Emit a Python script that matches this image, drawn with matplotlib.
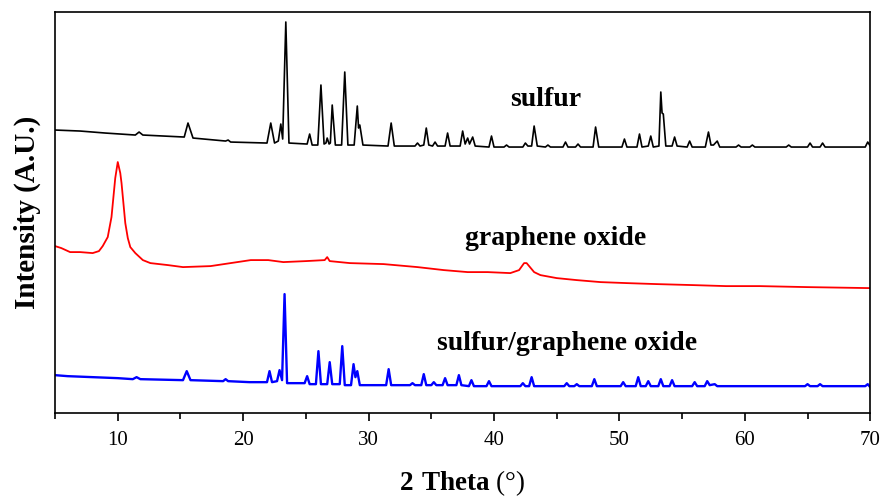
import numpy as np
import matplotlib
matplotlib.use('Agg')
import matplotlib.pyplot as plt

plt.rcParams['font.family'] = 'Liberation Serif'
plt.rcParams['mathtext.fontset'] = 'custom'
plt.rcParams['mathtext.rm'] = 'Liberation Serif'
plt.rcParams['mathtext.bf'] = 'Liberation Serif:bold'

#%% data (2 theta in degrees, intensity in arbitrary units, already stacked)
sulfur_2theta = [5.0, 7.0, 9.0, 11.4, 11.7, 12.0, 15.3, 15.6, 16.0, 18.6, 18.8, 19.0,
                 21.9, 22.2, 22.5, 22.8, 23.0, 23.15, 23.4, 23.65, 25.1, 25.3, 25.5,
                 25.95, 26.2, 26.45, 26.6, 26.7, 26.85, 26.95, 27.1, 27.35, 27.85, 28.1,
                 28.35, 28.85, 29.1, 29.2, 29.3, 29.55, 31.55, 31.8, 32.05, 33.7, 33.9,
                 34.1, 34.4, 34.6, 34.8, 35.1, 35.3, 35.5, 36.1, 36.3, 36.5, 37.3, 37.5,
                 37.7, 37.9, 38.05, 38.3, 38.5, 39.6, 39.8, 40.0, 40.8, 41.0, 41.2, 42.3,
                 42.5, 42.7, 43.0, 43.2, 43.45, 44.1, 44.3, 44.5, 45.5, 45.7, 45.9, 46.5,
                 46.7, 46.9, 47.9, 48.1, 48.35, 50.2, 50.4, 50.6, 51.4, 51.6, 51.8, 52.3,
                 52.5, 52.7, 53.15, 53.3, 53.4, 53.5, 53.7, 54.2, 54.4, 54.6, 55.4, 55.6,
                 55.8, 56.85, 57.1, 57.3, 57.5, 57.8, 58.0, 59.3, 59.5, 59.7, 60.4, 60.6,
                 60.8, 63.3, 63.5, 63.7, 65.0, 65.2, 65.4, 66.0, 66.2, 66.4, 69.6, 69.8, 70.0]
sulfur_counts = [283, 282, 280, 278, 281, 278, 276, 290, 275, 272, 273, 271,
                 270, 290, 270, 272, 289, 274, 391, 270, 269, 279, 268,
                 268, 328, 269, 270, 275, 269, 270, 308, 268, 268, 341,
                 268, 268, 307, 285, 288, 268, 267, 290, 267, 267, 270,
                 267, 268, 285, 268, 267, 271, 267, 267, 280, 267, 267, 282,
                 269, 275, 269, 276, 267, 266, 277, 266, 266, 268, 266, 266,
                 270, 267, 267, 287, 267, 266, 268, 266, 266, 271, 266, 266,
                 269, 266, 266, 286, 266, 266, 274, 266, 266, 279, 266, 267,
                 277, 266, 267, 321, 300, 299, 267, 267, 276, 267, 266, 272,
                 266, 266, 281, 268, 268, 272, 266, 266, 268, 266, 266, 268,
                 266, 266, 268, 266, 266, 270, 266, 266, 270, 266, 266, 271, 267]

go_2theta = [5.0, 5.5, 6.2, 7.0, 8.0, 8.5, 8.8, 9.2, 9.5, 9.8, 10.0, 10.2, 10.3, 10.6,
             10.8, 11.0, 11.4, 12.0, 12.6, 14.0, 15.2, 17.4, 19.0, 20.6, 22.0, 23.2,
             25.0, 26.5, 26.7, 26.9, 28.5, 31.2, 33.9, 36.0, 37.9, 39.5, 41.3, 42.0,
             42.4, 42.6, 42.8, 43.2, 43.7, 45.0, 46.6, 48.5, 50.6, 53.0, 55.9, 58.5,
             61.2, 65.0, 70.0]
go_counts = [167, 165, 161, 161, 160, 162, 167, 176, 196, 235, 251, 240, 230, 190,
             175, 166, 160, 153, 150, 148, 146, 147, 150, 153, 153, 151,
             152, 153, 156, 152, 150, 149, 146, 143, 141, 141, 140, 143,
             150, 150, 147, 141, 138, 135, 133, 131, 130, 129, 128, 127,
             127, 126, 125]

sgo_2theta = [5.0, 6.0, 8.0, 10.0, 11.2, 11.5, 11.8, 15.2, 15.5, 15.8, 18.4, 18.6, 18.8,
              20.5, 21.9, 22.1, 22.3, 22.7, 22.9, 23.1, 23.3, 23.5, 24.9, 25.1, 25.3,
              25.8, 26.0, 26.2, 26.7, 26.9, 27.1, 27.7, 27.9, 28.1, 28.6, 28.8, 28.95,
              29.1, 29.3, 31.4, 31.6, 31.8, 33.3, 33.5, 33.7, 34.2, 34.4, 34.6, 35.0,
              35.2, 35.4, 35.9, 36.1, 36.3, 37.0, 37.2, 37.4, 38.0, 38.2, 38.4, 39.4,
              39.6, 39.8, 42.1, 42.3, 42.5, 42.8, 43.0, 43.2, 45.6, 45.8, 46.0, 46.4,
              46.6, 46.8, 47.8, 48.0, 48.2, 50.1, 50.3, 50.5, 51.3, 51.5, 51.7, 52.1,
              52.3, 52.5, 53.1, 53.3, 53.5, 54.0, 54.2, 54.4, 55.8, 56.0, 56.2, 56.8,
              57.0, 57.2, 57.6, 57.8, 64.8, 65.0, 65.2, 65.8, 66.0, 66.2, 69.6, 69.8, 70.0]
sgo_counts = [38, 37, 36, 35, 34, 36, 34, 33, 42, 33, 32, 34, 32,
              31, 31, 42, 31, 32, 43, 33, 119, 30, 30, 37, 29,
              29, 62, 29, 29, 51, 29, 29, 67, 28, 28, 49, 36,
              42, 28, 28, 44, 28, 28, 30, 28, 28, 39, 28, 28,
              31, 28, 28, 35, 28, 28, 38, 28, 27, 33, 27, 27,
              32, 27, 27, 30, 27, 27, 36, 27, 27, 30, 27, 27,
              29, 27, 27, 34, 27, 27, 31, 27, 27, 36, 27, 27,
              32, 27, 27, 34, 27, 27, 33, 27, 27, 31, 27, 27,
              32, 28, 29, 27, 27, 29, 27, 27, 29, 27, 27, 29, 26]

labels = ['sulfur', 'graphene oxide', 'sulfur/graphene oxide']
label_pos = [(44.1, 314), (44.9, 175), (45.8, 70)]

#%% plot
fig = plt.figure(figsize=(8.88, 4.99), dpi=100, facecolor='w')
ax = fig.add_axes([0.062, 0.172, 0.918, 0.804])
ax.plot(sulfur_2theta, sulfur_counts, color='k', lw=1.2)
ax.plot(go_2theta, go_counts, color='#ff0000', lw=1.3)
ax.plot(sgo_2theta, sgo_counts, color='#0000ff', lw=1.7)

for txt, (tx, ty) in zip(labels, label_pos):
    ax.text(tx, ty, txt, ha='center', va='center', fontsize=20, fontweight='bold')

ax.set_xlim(5, 70)
ax.set_ylim(0, 401)
ax.set_xticks([10, 20, 30, 40, 50, 60, 70])
ax.set_xticks([5, 15, 25, 35, 45, 55, 65], minor=True)
ax.set_yticks([])
ax.tick_params(axis='x', which='major', direction='out', length=6, width=1.2, labelsize=15, pad=7)
ax.tick_params(axis='x', which='minor', direction='out', length=4, width=1.2)
for sp in ax.spines.values():
    sp.set_linewidth(1.2)

ax.set_xlabel(r'$\mathbf{2\ Theta}$ (°)', fontsize=19.5, labelpad=13)
ax.set_ylabel('Intensity (A.U.)', fontsize=21, fontweight='bold', labelpad=10)

plt.savefig('out.png', dpi=100)
